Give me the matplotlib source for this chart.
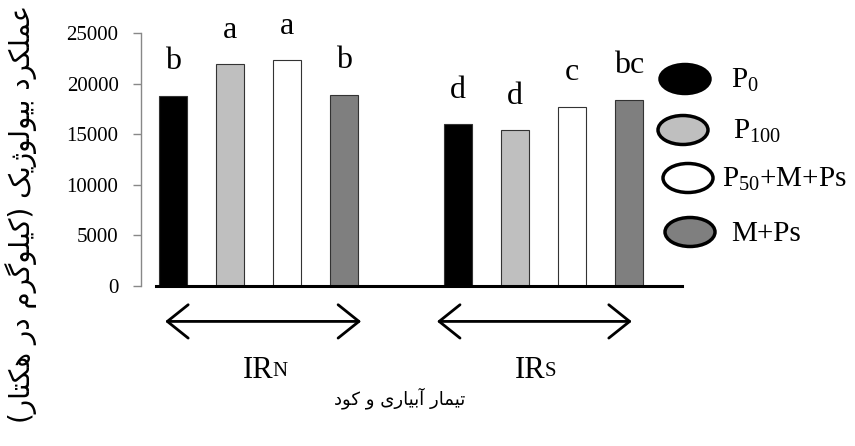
import matplotlib
matplotlib.use("Agg")
import matplotlib.pyplot as plt
from matplotlib.patches import Ellipse

plt.rcParams["font.family"] = ["Liberation Serif", "DejaVu Sans"]
plt.rcParams["mathtext.fontset"] = "custom"
plt.rcParams["mathtext.rm"] = "Liberation Serif"
plt.rcParams["mathtext.it"] = "Liberation Serif:italic"

W, H = 855, 446

treatments = [r"$\mathregular{P_{0}}$", r"$\mathregular{P_{100}}$",
              r"$\mathregular{P_{50}}$+M+Ps", "M+Ps"]
fills = ["#000000", "#bfbfbf", "#ffffff", "#7f7f7f"]

groups = ["IR", "IR"]
group_sub = ["N", "S"]
irn_yield = [18800, 21900, 22300, 18900]
irs_yield = [16000, 15400, 17700, 18400]
irn_letters = ["b", "a", "a", "b"]
irs_letters = ["d", "d", "c", "bc"]

y_ticks = [0, 5000, 10000, 15000, 20000, 25000]
ylabel = "عملکرد بیولوژیک (کیلوگرم در هکتار)"
xlabel = "تیمار آبیاری و کود"

# presentation forms: isolated, final, initial, medial
FORMS = {
    "ا": ("\uFE8D", "\uFE8E", None, None),
    "آ": ("\uFE81", "\uFE82", None, None),
    "ب": ("\uFE8F", "\uFE90", "\uFE91", "\uFE92"),
    "ت": ("\uFE95", "\uFE96", "\uFE97", "\uFE98"),
    "د": ("\uFEA9", "\uFEAA", None, None),
    "ر": ("\uFEAD", "\uFEAE", None, None),
    "ژ": ("\uFB8A", "\uFB8B", None, None),
    "ع": ("\uFEC9", "\uFECA", "\uFECB", "\uFECC"),
    "ل": ("\uFEDD", "\uFEDE", "\uFEDF", "\uFEE0"),
    "م": ("\uFEE1", "\uFEE2", "\uFEE3", "\uFEE4"),
    "ه": ("\uFEE9", "\uFEEA", "\uFEEB", "\uFEEC"),
    "و": ("\uFEED", "\uFEEE", None, None),
    "ک": ("\uFB8E", "\uFB8F", "\uFB90", "\uFB91"),
    "گ": ("\uFB92", "\uFB93", "\uFB94", "\uFB95"),
    "ی": ("\uFBFC", "\uFBFD", "\uFBFE", "\uFBFF"),
}


def shape(text):
    out = []
    for i, ch in enumerate(text):
        if ch not in FORMS:
            out.append(ch)
            continue
        prev = text[i - 1] if i > 0 else ""
        nxt = text[i + 1] if i + 1 < len(text) else ""
        f = FORMS[ch]
        j_prev = prev in FORMS and FORMS[prev][2] is not None
        j_next = f[2] is not None and nxt in FORMS
        if j_prev and j_next:
            out.append(f[3])
        elif j_prev:
            out.append(f[1])
        elif j_next:
            out.append(f[2])
        else:
            out.append(f[0])
    vis = "".join(reversed(out))
    return vis.translate(str.maketrans("()", ")("))


def fx(x):
    return x / W


def fy(y):
    return 1 - y / H


fig = plt.figure(figsize=(W / 100, H / 100), dpi=100)
ax = fig.add_axes([fx(156), fy(286), fx(682) - fx(156), fy(33) - fy(286)])

pos_n = [0, 1, 2, 3]
pos_s = [5, 6, 7, 8]
for pos, vals, letters in [(pos_n, irn_yield, irn_letters), (pos_s, irs_yield, irs_letters)]:
    for p, v, c, lt in zip(pos, vals, fills, letters):
        ax.bar(p, v, width=0.5, color=c, edgecolor="#333333", linewidth=0.8, zorder=2)
        ax.annotate(lt, (p, v), xytext=(0, 19), textcoords="offset points",
                    ha="center", va="baseline", fontsize=23)

ax.set_xlim(-0.3, 8.93)
ax.set_ylim(0, 25000)
ax.set_yticks(y_ticks, labels=[str(t) for t in y_ticks])
ax.tick_params(axis="y", length=6, width=1, color="#888888", pad=10, labelsize=15)
ax.set_xticks([])
for s in ["top", "right"]:
    ax.spines[s].set_visible(False)
ax.spines["left"].set_position(("outward", 11))
ax.spines["left"].set_color("#888888")
ax.spines["left"].set_linewidth(1)
ax.spines["bottom"].set_linewidth(2.2)
ax.spines["bottom"].set_zorder(3)

# double arrows under each irrigation group
for x0, x1 in [(-0.14, 3.3), (4.63, 8.05)]:
    ax.annotate("", xy=(x1, -0.14), xytext=(x0, -0.14),
                xycoords=("data", "axes fraction"),
                textcoords=("data", "axes fraction"),
                arrowprops=dict(arrowstyle="<->,head_length=0.75,head_width=0.6",
                                mutation_scale=20, lw=2, color="black",
                                shrinkA=0, shrinkB=0))

for xr, g, sub in zip([1.76, 6.53], groups, group_sub):
    t = ax.text(xr, -0.364, g, transform=ax.get_xaxis_transform(),
                ha="right", va="baseline", fontsize=22)
    ax.annotate(sub, xy=(1, 0), xycoords=t, xytext=(-0.5, 3), textcoords="offset points",
                ha="left", va="bottom", fontsize=15)

fig.text(fx(400), fy(398), shape(xlabel), ha="center", va="center",
         fontsize=13, family=["DejaVu Sans"])
fig.text(fx(21), fy(5), shape(ylabel), ha="center", va="top", rotation=90,
         fontsize=20, family=["DejaVu Sans"])

# legend drawn as ellipses beside the bars
leg_y = [79, 130, 178, 232]
leg_x = [685, 683, 688, 690]
txt_x = [731, 733, 722, 731]
for ex, ey, tx, c, lab in zip(leg_x, leg_y, txt_x, fills, treatments):
    fig.add_artist(Ellipse((fx(ex), fy(ey)), 50 / W, 29 / H, transform=fig.transFigure,
                           facecolor=c, edgecolor="black", linewidth=2.5))
    fig.text(fx(tx), fy(ey + 9), lab, ha="left", va="baseline", fontsize=21)

fig.savefig("out.png", dpi=100, facecolor="white")
